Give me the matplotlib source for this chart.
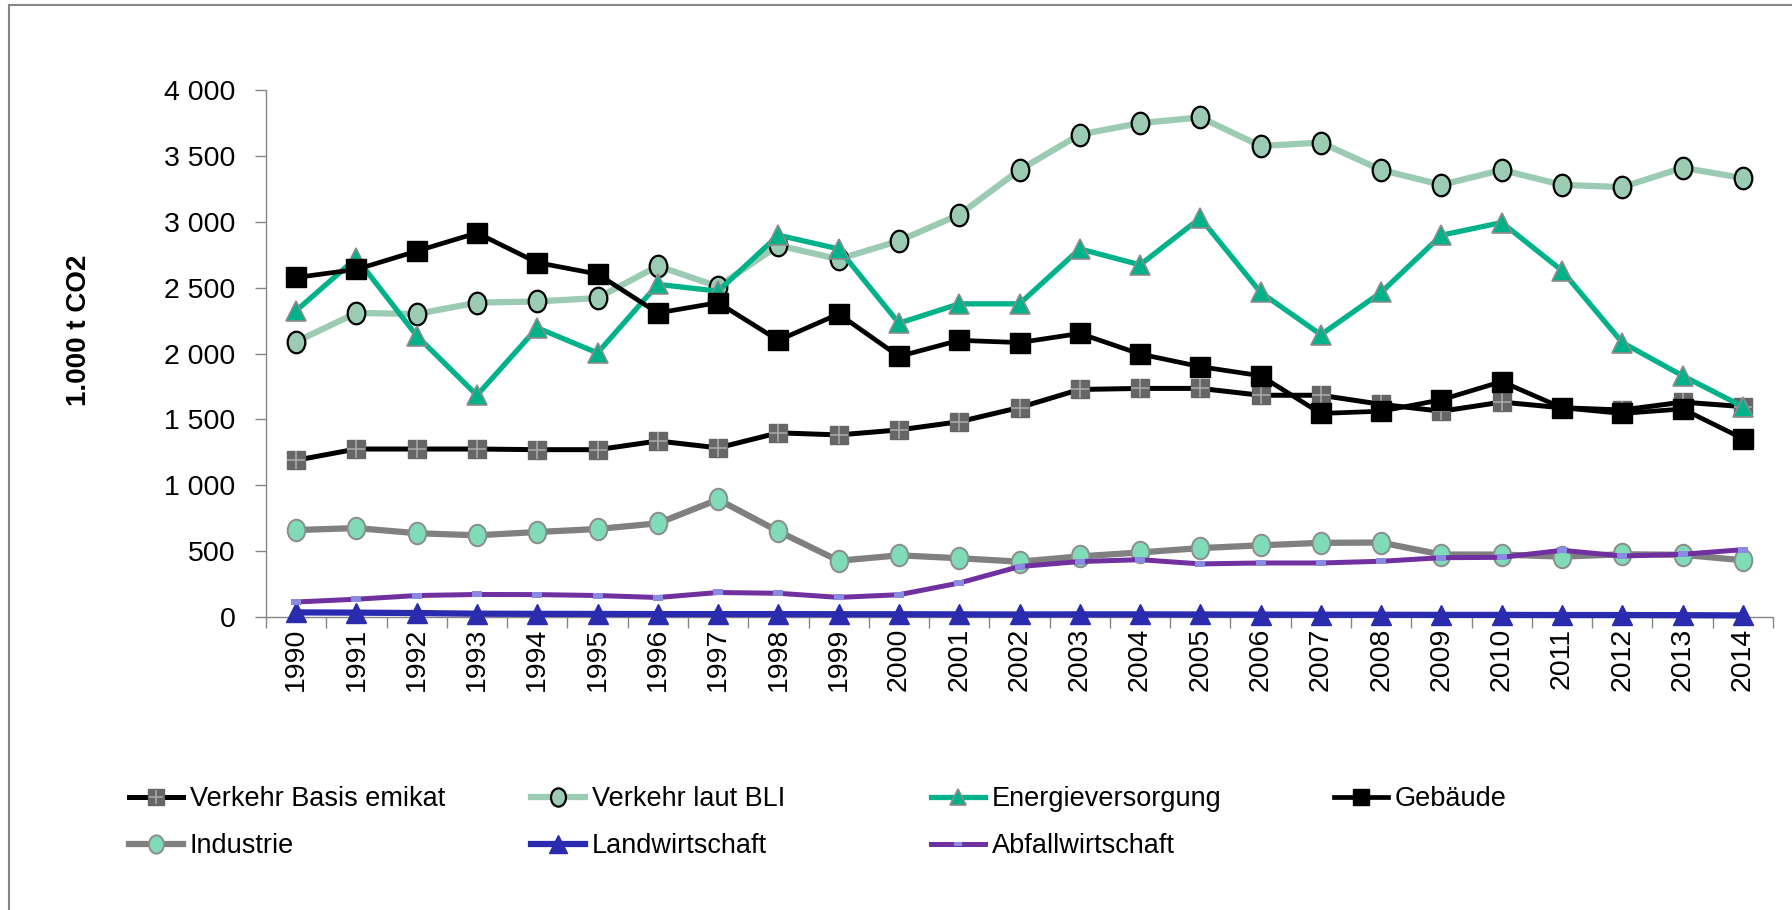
import numpy as np
import matplotlib
matplotlib.use("Agg")
import matplotlib.pyplot as plt
from matplotlib.path import Path
from matplotlib.lines import Line2D
from matplotlib.legend_handler import HandlerTuple
from matplotlib.ticker import FuncFormatter, FixedLocator

plt.rcParams['font.family'] = ['Liberation Sans', 'DejaVu Sans']

# data
years = list(range(1990, 2015))
verkehr_basis = [1190, 1275, 1275, 1275, 1270, 1270, 1336, 1284, 1398, 1382, 1420, 1482, 1590,
                 1727, 1735, 1735, 1683, 1683, 1614, 1562, 1631, 1588, 1571, 1631, 1597]
verkehr_bli = [2090, 2308, 2300, 2386, 2395, 2421, 2664, 2508, 2820, 2716, 2855, 3054, 3393,
               3662, 3749, 3792, 3575, 3601, 3393, 3280, 3393, 3280, 3263, 3410, 3332]
energie = [2325, 2725, 2135, 1683, 2195, 2004, 2525, 2473, 2898, 2794, 2230, 2377, 2377,
           2794, 2673, 3028, 2464, 2143, 2464, 2898, 2994, 2629, 2083, 1831, 1597]
gebaeude = [2577, 2638, 2777, 2915, 2690, 2603, 2308, 2386, 2100, 2300, 1978, 2100, 2083,
            2152, 1996, 1900, 1831, 1545, 1562, 1649, 1787, 1588, 1545, 1579, 1354]
industrie = [660, 675, 636, 620, 645, 668, 711, 892, 650, 427, 468, 446, 420,
             460, 490, 523, 544, 563, 565, 474, 474, 458, 476, 472, 431]
landwirtschaft = [35, 33, 30, 25, 24, 23, 22, 22, 22, 21, 21, 20, 19,
                  20, 20, 19, 18, 17, 17, 16, 16, 15, 15, 14, 12]
abfall = [114, 135, 163, 171, 170, 163, 148, 186, 180, 149, 169, 258, 383,
          421, 435, 403, 410, 410, 423, 450, 453, 506, 463, 476, 511]

# slightly tall ellipse marker, like the stretched excel circles
circ = Path.unit_circle()
ellipse = Path(circ.vertices * np.array([0.82, 1.0]), circ.codes)
# flat rectangle marker for the waste series
flat = Path([(-1, -0.6), (1, -0.6), (1, 0.6), (-1, 0.6), (-1, -0.6)],
            [Path.MOVETO, Path.LINETO, Path.LINETO, Path.LINETO, Path.CLOSEPOLY])

fig = plt.figure(figsize=(17.92, 9.10), dpi=100)
ax = fig.add_axes([266 / 1792, 1 - 617 / 910, (1773 - 266) / 1792, 527 / 910])
x = np.arange(len(years))

h_basis, = ax.plot(x, verkehr_basis, color='black', lw=3.6, marker='s', ms=13,
                   mfc='#666666', mec='#666666', zorder=3)
h_plus, = ax.plot(x, verkehr_basis, ls='none', marker='+', ms=12.5, mew=1.2,
                  color='#A8A8A8', zorder=3.1)
h_bli, = ax.plot(x, verkehr_bli, color='#9CCBB3', lw=4.5, marker=ellipse, ms=15.5,
                 mfc='#9CCBB3', mec='black', mew=1.6, zorder=3.2)
h_energie, = ax.plot(x, energie, color='#00B28A', lw=3.8, marker='^', ms=14,
                     mfc='#00B28A', mec='#8C8C8C', mew=1.2, zorder=3.3)
h_geb, = ax.plot(x, gebaeude, color='black', lw=3.4, marker='s', ms=14,
                 mfc='black', mec='black', zorder=3.4)
h_ind, = ax.plot(x, industrie, color='#808080', lw=4.5, marker=ellipse, ms=15.5,
                 mfc='#80DBB8', mec='#8C8C8C', mew=1.4, zorder=3.5)
h_land, = ax.plot(x, landwirtschaft, color='#2B2BB0', lw=4.5, marker='^', ms=15,
                  mfc='#2B2BB0', mec='#2B2BB0', zorder=3.6, clip_on=False)
h_abf, = ax.plot(x, abfall, color='#7030A0', lw=3.6, marker=flat, ms=7,
                 mfc='#8A8AE0', mec='#8A8AE0', mew=0, zorder=3.7)

ax.set_xlim(-0.5, len(years) - 0.5)
ax.set_ylim(0, 4000)
ax.set_yticks(np.arange(0, 4001, 500))
ax.yaxis.set_major_formatter(FuncFormatter(lambda v, p: f"{int(v):,}".replace(',', ' ')))

ax.xaxis.set_major_locator(FixedLocator(np.arange(-0.5, len(years), 1.0)))
ax.xaxis.set_minor_locator(FixedLocator(x))
ax.set_xticklabels([], minor=False)
ax.set_xticklabels([str(y) for y in years], minor=True, rotation=90)
ax.tick_params(axis='x', which='major', length=8, width=1, color='#868686', direction='out')
ax.tick_params(axis='x', which='minor', length=0, pad=8, labelsize=20.5)
ax.tick_params(axis='y', length=8, width=1, color='#868686', direction='out', pad=14,
               labelsize=20.5)

for s in ['top', 'right']:
    ax.spines[s].set_visible(False)
for s in ['left', 'bottom']:
    ax.spines[s].set_color('#868686')
    ax.spines[s].set_linewidth(1.0)

fig.text(79 / 1792, 1 - 330 / 910, '1.000 t CO2', rotation=90, fontsize=20,
         fontweight='bold', ha='center', va='center')

# legend, excel style fixed columns
cols = [
    ([(h_basis, h_plus), h_ind], ['Verkehr Basis emikat', 'Industrie'], 129),
    ([h_bli, h_land], ['Verkehr laut BLI', 'Landwirtschaft'], 531),
    ([h_energie, h_abf], ['Energieversorgung', 'Abfallwirtschaft'], 931),
    ([h_geb], ['Gebäude'], 1334),
]
for handles, labels, px in cols:
    fig.legend(handles, labels, loc='upper left',
               bbox_to_anchor=(px / 1792, 1 - 786 / 910), frameon=False,
               fontsize=19.5, handlelength=2.0, handletextpad=0.25,
               labelspacing=0.78, borderpad=0, borderaxespad=0,
               markerscale=0.85, handler_map={tuple: HandlerTuple(ndivide=1, pad=0)})

# outer chart border (left and top only visible)
fig.add_artist(Line2D([9 / 1792, 9 / 1792], [0, 1 - 5 / 910], color='#878787', lw=1.5,
                      transform=fig.transFigure))
fig.add_artist(Line2D([9 / 1792, 1], [1 - 5 / 910, 1 - 5 / 910], color='#878787', lw=1.5,
                      transform=fig.transFigure))

fig.savefig('out.png', dpi=100)
